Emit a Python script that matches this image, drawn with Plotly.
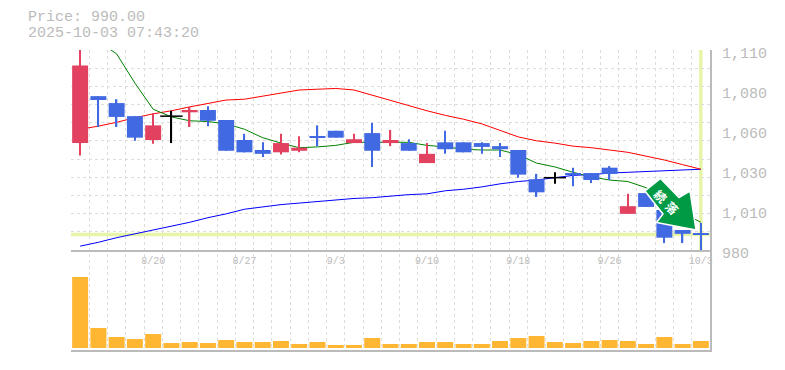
import plotly.graph_objects as go

# Daily prices, oldest first
opens = [1049.5,1080,1075.5,1067,1051.5,1067,1069.5,1071,1064.5,1051.5,1045,1043.5,1044.5,1054,1057.5,1049.5,1056,1049.5,1049.5,1036.5,1050,1050,1049.5,1047.5,1045,1026,1027,1030,1030,1033.5,1003.5,1017,1006,993,991]
highs = [1110,1080,1078,1067,1069,1070.5,1073,1073.5,1064.5,1055.5,1050,1055.5,1054,1061,1057.5,1055.5,1062.5,1058,1052,1049.5,1057.5,1050,1050,1049.5,1045,1029.5,1030.5,1033.5,1030,1034.5,1016.5,1017,1006,993,997.5]
lows = [1041.5,1060,1060,1051,1049,1049.5,1060,1060.5,1044.5,1043.5,1040.5,1042,1043.5,1047.5,1053,1049.5,1034,1047.5,1044.5,1036.5,1042.5,1043.5,1042.5,1040.5,1027,1014.5,1023,1021.5,1023.5,1025.5,1003.5,1008,984.5,984.5,979.5]
closes = [1100,1077.5,1066.5,1053,1061,1067,1071,1064,1044.5,1043.5,1042.5,1049.5,1046.5,1053,1053,1052,1044.5,1051.5,1044.5,1042.5,1045.5,1043.5,1047,1045.5,1029,1017.5,1027,1029,1025.5,1029.5,1008.5,1008,988,990.5,990]
volumes = [71000,20000,11000,9000,14000,5000,6000,5000,8000,6000,6000,7000,4000,6000,3000,3000,10000,4000,4000,6000,6000,4000,4000,7000,10000,12000,6000,5000,7000,8000,7000,4000,11000,4000,7000]
ma_short = [None,1115.5,1107.5,1088.5,1071.5,1066.5,1064,1063.5,1062,1058.5,1053,1049.5,1046.5,1047,1048,1050,1050,1050,1050,1048,1047,1045.5,1045,1045,1042,1036.5,1034,1030.5,1027.5,1025.5,1024.5,1020.5,1011,1004,998]
ma_mid = [1058.5,1060.5,1063,1066,1068.5,1070.5,1073,1075.5,1077.5,1078,1080,1082,1084,1084.5,1085,1084,1080.5,1077.5,1074,1070.5,1067.5,1065,1062,1057.5,1053.5,1051,1049.5,1047.5,1046.5,1045,1043.5,1041,1038.5,1035.5,1032.5]
ma_long = [982.5,985,988,990.5,993,995.5,998,1001,1003.5,1006.5,1008,1009.5,1010.5,1011.5,1012.5,1013.5,1014,1015,1016,1016.5,1018.5,1019.5,1021,1023,1024.5,1025.5,1027,1028.5,1029,1030,1030.5,1031,1031.5,1032,1032.5]
date_idx = [4,9,14,19,24,29,34]
date_labels = ["8/20","8/27","9/3","9/10","9/18","9/26","10/3"]
price_ticks = [1110,1084,1058,1032,1006,980]
price_labels = ["1,110","1,080","1,060","1,030","1,010","980"]
last_price = 990
header = ["Price: 990.00","2025-10-03 07:43:20"]
stamp = ["続","落"]

W, H = 785, 370
L, R, T, B = 71, 75, 50, 20
PW, PH = W-L-R, H-T-B
def fx(px): return (px-L)/PW
def fy(py): return (H-B-py)/PH
MONO = "Liberation Mono, DejaVu Sans Mono, monospace"
GREY = "#bbbbbb"
GRID = "#dddddd"
RED, BLUE = "#e2425f", "#4169e1"
CLEAR = "rgba(0,0,0,0)"
n = len(opens)
idx = list(range(n))
XR = [-0.5, n-0.5]
YR = [980, 1110]

fig = go.Figure()
# hidden carrier traces for the helper axes
fig.add_trace(go.Scatter(x=[0], y=[0], xaxis="x", yaxis="y", mode="markers", marker=dict(opacity=0), showlegend=False, hoverinfo="skip"))
fig.add_trace(go.Scatter(x=[0], y=[last_price], xaxis="x3", yaxis="y5", mode="markers", marker=dict(opacity=0), showlegend=False, hoverinfo="skip"))

for vals, col in ((ma_long,"#0000ff"),(ma_mid,"#ff0000"),(ma_short,"#008000")):
    fig.add_trace(go.Scatter(x=idx, y=vals, xaxis="x2", yaxis="y2", mode="lines", line=dict(color=col, width=1), cliponaxis=False, showlegend=False))

def kind(i):
    if closes[i] > opens[i]: return "up"
    if closes[i] < opens[i]: return "down"
    return "flat"

for k, col in (("up",RED),("down",BLUE),("flat","#000000")):
    ids = [i for i in idx if kind(i)==k]
    fig.add_trace(go.Bar(x=ids, y=[highs[i]-lows[i] for i in ids], base=[lows[i] for i in ids], width=0.075,
                         marker=dict(color=col, line=dict(width=0)), xaxis="x2", yaxis="y3", cliponaxis=False, showlegend=False))
    if k != "flat":
        fig.add_trace(go.Bar(x=ids, y=[abs(closes[i]-opens[i]) for i in ids], base=[min(opens[i],closes[i]) for i in ids], width=0.875,
                             marker=dict(color=col, line=dict(width=0)), xaxis="x2", yaxis="y3", cliponaxis=False, showlegend=False))
    else:
        fig.add_trace(go.Scatter(x=ids, y=[closes[i] for i in ids], mode="markers", xaxis="x2", yaxis="y3",
                                 marker=dict(symbol="line-ew", size=16, line=dict(color=col, width=1.5)), showlegend=False))

fig.add_trace(go.Bar(x=idx, y=volumes, width=0.875, marker=dict(color="#ffb733", line=dict(width=0)), xaxis="x2", yaxis="y4", showlegend=False))

fig.update_layout(
    width=W, height=H, autosize=False, margin=dict(l=L, r=R, t=T, b=B, pad=0),
    paper_bgcolor="white", plot_bgcolor=CLEAR, barmode="overlay", showlegend=False,
    xaxis=dict(automargin=False, range=XR, domain=[0,1], anchor="y", tick0=-0.5, dtick=1, showgrid=True, gridcolor=GRID, griddash="3px,3px",
               gridwidth=1, zeroline=False, showticklabels=False, ticks="", showline=True, linecolor=GREY, linewidth=1.5),
    yaxis=dict(automargin=False, range=[0,1], domain=[0,1], anchor="x", side="right", showgrid=False, zeroline=False, showticklabels=False, ticks="",
               showline=True, linecolor=GREY, linewidth=1.5),
    xaxis2=dict(automargin=False, range=XR, domain=[0,1], anchor="y2", tickmode="array", tickvals=date_idx, ticktext=date_labels, showgrid=False, zeroline=False,
                ticks="", showline=True, linecolor=GREY, linewidth=1.5, tickfont=dict(family=MONO, size=10, color=GREY), ticklabeloverflow="allow"),
    yaxis2=dict(automargin=False, range=YR, domain=[fy(250),1], anchor="x2", tick0=980, dtick=130/11, showgrid=True, gridcolor=GRID, griddash="3px,3px",
                gridwidth=1, zeroline=False, showticklabels=False, ticks="", showline=False),
    yaxis3=dict(automargin=False, range=YR, overlaying="y2", anchor="x2", showgrid=False, zeroline=False, showticklabels=False, ticks=""),
    yaxis4=dict(automargin=False, range=[-2000,86000], domain=[0,fy(262)], anchor="x2", showgrid=False, zeroline=False, showticklabels=False, ticks=""),
    xaxis3=dict(automargin=False, range=XR, domain=[0,1], anchor="y5", visible=False),
    yaxis5=dict(automargin=False, range=YR, domain=[fy(253),fy(53)], anchor="x3", side="right", tickmode="array", tickvals=price_ticks, ticktext=price_labels,
                showgrid=False, zeroline=False, ticks="outside", ticklen=8, tickcolor=CLEAR, tickfont=dict(family=MONO, size=15, color=GREY)),
    shapes=[
        dict(type="line", xref="x2", yref="paper", x0=n-1, x1=n-1, y0=fy(250), y1=1, line=dict(color="#e6f5a8", width=3.5), layer="below"),
        dict(type="line", xref="paper", yref="y2", x0=0, x1=1, y0=last_price, y1=last_price, line=dict(color="#e6f5a8", width=3.5), layer="below"),
        dict(type="path", xref="paper", yref="paper", layer="above", fillcolor="#009944", line=dict(color="white", width=1.5),
             path="M %f %f L %f %f L %f %f L %f %f L %f %f L %f %f L %f %f Z" % (
                 fx(660.5),fy(178.5), fx(679),fy(197.5), fx(690),fy(191), fx(696),fy(230), fx(656.5),fy(222.5), fx(663),fy(214), fx(645),fy(191))),
    ],
    annotations=[
        dict(text=header[0], xref="paper", yref="paper", x=fx(27), y=fy(17.5), xanchor="left", yanchor="middle", showarrow=False, borderpad=0,
             font=dict(family=MONO, size=15, color=GREY)),
        dict(text=header[1], xref="paper", yref="paper", x=fx(27), y=fy(33.5), xanchor="left", yanchor="middle", showarrow=False, borderpad=0,
             font=dict(family=MONO, size=15, color=GREY)),
        dict(text="<b>%s</b>" % stamp[0], xref="paper", yref="paper", x=fx(660.5), y=fy(195.5), xanchor="center", yanchor="middle", showarrow=False, textangle=45,
             font=dict(family="Noto Sans CJK JP", size=12, color="white")),
        dict(text="<b>%s</b>" % stamp[1], xref="paper", yref="paper", x=fx(672.5), y=fy(207), xanchor="center", yanchor="middle", showarrow=False, textangle=45,
             font=dict(family="Noto Sans CJK JP", size=12, color="white")),
    ],
)
fig.write_html("out.html", config=dict(displayModeBar=False), post_script="document.body.style.margin='0';")
